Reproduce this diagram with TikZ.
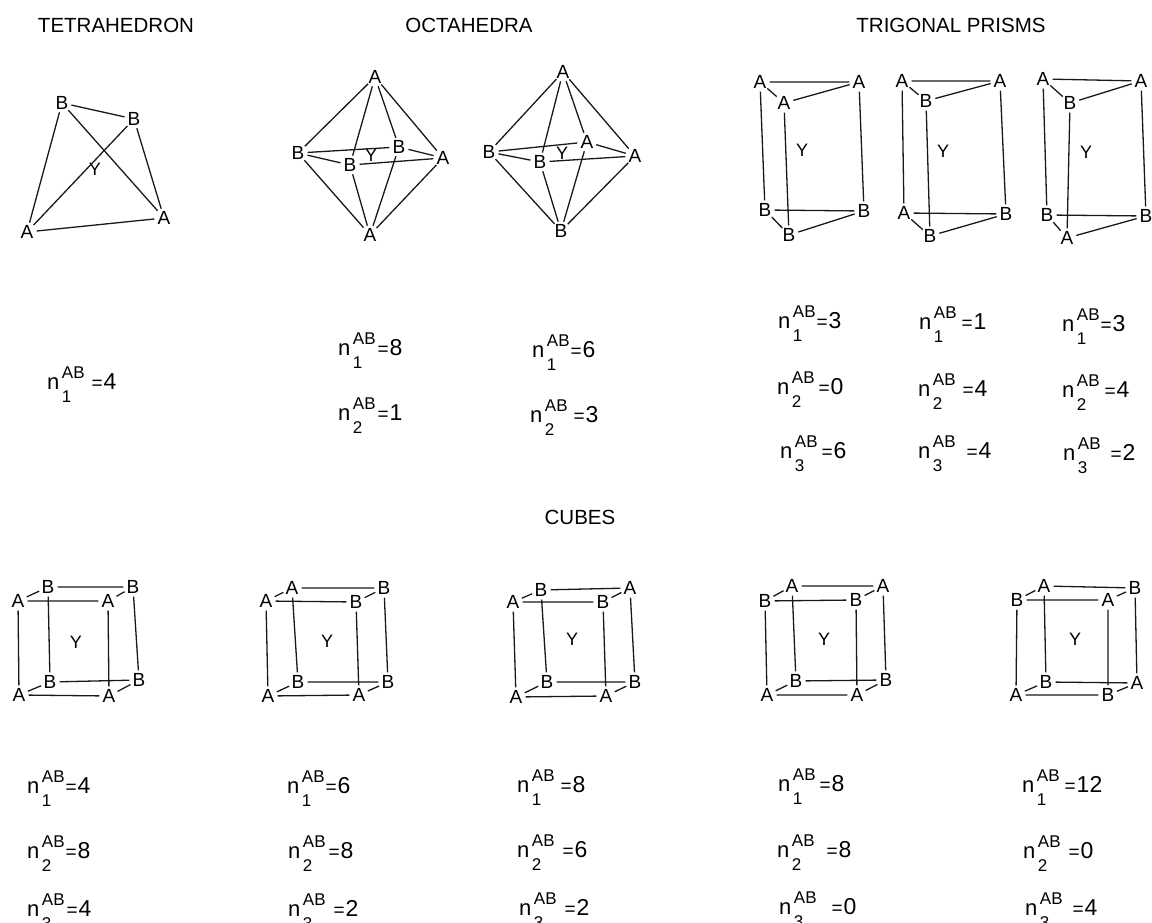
\documentclass[tikz,border=0pt]{standalone}
\usepackage{fontspec}
\setmainfont{Liberation Sans}
\newcommand\supfont{\fontsize{17}{17}\selectfont}
\newcommand\eqfont{\fontsize{19}{19}\selectfont}
\newcommand\valfont{\fontsize{23}{23}\selectfont}
% #1 subscript, #2 gap before the equals sign, #3 value
\newcommand\nab[3]{n\hspace{2.5pt}\rlap{\raisebox{11pt}{\supfont AB}}\rlap{\raisebox{-13pt}{\supfont #1}}\phantom{\supfont AB}\hspace{#2pt}{\eqfont=}\hspace{1pt}{\valfont #3}}
\newcommand\cubeedges[1]{\draw[edge] (#1a)--(#1b) (#1b)--(#1c) (#1c)--(#1d) (#1d)--(#1a) (#1e)--(#1f) (#1f)--(#1g) (#1g)--(#1h) (#1h)--(#1e) (#1a)--(#1e) (#1b)--(#1f) (#1c)--(#1g) (#1d)--(#1h);}
\newcommand\prismedges[1]{\draw[edge] (#1a)--(#1b) (#1a)--(#1c) (#1c)--(#1b) (#1d)--(#1e) (#1d)--(#1f) (#1f)--(#1e) (#1a)--(#1d) (#1b)--(#1e) (#1c)--(#1f);}
\newcommand\octedges[1]{\draw[edge] (#1t)--(#1l) (#1t)--(#1f) (#1t)--(#1k) (#1t)--(#1r) (#1u)--(#1l) (#1u)--(#1f) (#1u)--(#1k) (#1u)--(#1r) (#1l)--(#1k) (#1k)--(#1r) (#1l)--(#1f) (#1f)--(#1r);}
\tikzset{
 vert/.style={circle,inner sep=0pt,minimum size=19pt,font=\fontsize{19}{19}\selectfont},
 cen/.style={inner sep=0pt,font=\fontsize{18}{18}\selectfont},
 edge/.style={line width=1.3pt,black!90},
 ttl/.style={inner sep=0pt,font=\fontsize{20.5}{20.5}\selectfont},
 lab/.style={anchor=base west,inner sep=0pt,font=\fontsize{22}{22}\selectfont}
}
\begin{document}
\begin{tikzpicture}[x=1pt,y=-1pt]
\useasboundingbox (0,0) rectangle (1152,923);
\node[ttl] (t1) at (116,25) {TETRAHEDRON};
\node[ttl] (t2) at (469,25) {OCTAHEDRA};
\node[ttl] (t3) at (951,25) {TRIGONAL PRISMS};
\node[ttl] (t4) at (580,517) {CUBES};
% tetrahedron
\node[vert] (ta) at (62,103) {B};
\node[vert] (tb) at (134,119) {B};
\node[vert] (tc) at (27,232) {A};
\node[vert] (td) at (164,218) {A};
\node[cen] (ty) at (95,169) {Y};
\draw[edge] (ta)--(tb) (ta)--(tc) (ta)--(td) (tb)--(tc) (tb)--(td) (tc)--(td);
% octahedra
\node[vert] (ot) at (375,77) {A};
\node[vert] (ol) at (298,153) {B};
\node[vert] (ok) at (399,147) {B};
\node[vert] (or) at (443,158) {A};
\node[vert] (of) at (350,165) {B};
\node[vert] (ou) at (370,235) {A};
\node[cen] (oy) at (371,155) {Y};
\octedges{o}
\node[vert] (pt) at (563,72) {A};
\node[vert] (pl) at (489,152) {B};
\node[vert] (pk) at (587,142) {A};
\node[vert] (pr) at (635,156) {A};
\node[vert] (pf) at (540,162) {B};
\node[vert] (pu) at (561,231) {B};
\node[cen] (py) at (562,153) {Y};
\octedges{p}
% prisms
\node[vert] (qa) at (760,82) {A};
\node[vert] (qb) at (859,82) {A};
\node[vert] (qc) at (784,103) {A};
\node[vert] (qd) at (765,210) {B};
\node[vert] (qe) at (864,211) {B};
\node[vert] (qf) at (789,235) {B};
\node[cen] (qy) at (802,150) {Y};
\prismedges{q}
\node[vert] (ra) at (902,81) {A};
\node[vert] (rb) at (1000,81) {A};
\node[vert] (rc) at (926,101) {B};
\node[vert] (rd) at (904,213) {A};
\node[vert] (re) at (1006,214) {B};
\node[vert] (rf) at (930,236) {B};
\node[cen] (ry) at (943,151) {Y};
\prismedges{r}
\node[vert] (sa) at (1043,79) {A};
\node[vert] (sb) at (1141,81) {A};
\node[vert] (sc) at (1070,103) {B};
\node[vert] (sd) at (1047,215) {B};
\node[vert] (se) at (1146,216) {B};
\node[vert] (sf) at (1067,238) {A};
\node[cen] (sy) at (1086,152) {Y};
\prismedges{s}
% cubes
\node[vert] (c1a) at (18,601) {A};
\node[vert] (c1b) at (48,587) {B};
\node[vert] (c1c) at (133,587) {B};
\node[vert] (c1d) at (108,601) {A};
\node[vert] (c1e) at (19,695) {A};
\node[vert] (c1f) at (50,682) {B};
\node[vert] (c1g) at (139,680) {B};
\node[vert] (c1h) at (109,696) {A};
\node[cen] (c1y) at (76,642) {Y};
\cubeedges{c1}
\node[vert] (c2a) at (266,601) {A};
\node[vert] (c2b) at (292,588) {A};
\node[vert] (c2c) at (384,588) {B};
\node[vert] (c2d) at (356,602) {B};
\node[vert] (c2e) at (268,696) {A};
\node[vert] (c2f) at (298,682) {B};
\node[vert] (c2g) at (388,682) {B};
\node[vert] (c2h) at (359,695) {A};
\node[cen] (c2y) at (327,641) {Y};
\cubeedges{c2}
\node[vert] (c3a) at (513,602) {A};
\node[vert] (c3b) at (541,590) {B};
\node[vert] (c3c) at (630,588) {A};
\node[vert] (c3d) at (603,602) {B};
\node[vert] (c3e) at (516,697) {A};
\node[vert] (c3f) at (547,682) {B};
\node[vert] (c3g) at (635,682) {B};
\node[vert] (c3h) at (606,696) {A};
\node[cen] (c3y) at (572,639) {Y};
\cubeedges{c3}
\node[vert] (c4a) at (765,601) {B};
\node[vert] (c4b) at (792,586) {A};
\node[vert] (c4c) at (883,586) {A};
\node[vert] (c4d) at (856,600) {B};
\node[vert] (c4e) at (767,695) {A};
\node[vert] (c4f) at (796,681) {B};
\node[vert] (c4g) at (886,680) {B};
\node[vert] (c4h) at (857,695) {A};
\node[cen] (c4y) at (824,639) {Y};
\cubeedges{c4}
\node[vert] (c5a) at (1017,600) {B};
\node[vert] (c5b) at (1044,586) {A};
\node[vert] (c5c) at (1135,588) {B};
\node[vert] (c5d) at (1108,600) {A};
\node[vert] (c5e) at (1016,695) {A};
\node[vert] (c5f) at (1046,682) {B};
\node[vert] (c5g) at (1137,683) {A};
\node[vert] (c5h) at (1108,695) {B};
\node[cen] (c5y) at (1075,639) {Y};
\cubeedges{c5}
% counts
\node[lab] (l1) at (47,389) {\nab{1}{7}{4}};
\node[lab] (l2) at (338,355) {\nab{1}{2}{8}};
\node[lab] (l3) at (338,420) {\nab{2}{2}{1}};
\node[lab] (l4) at (532,357) {\nab{1}{1}{6}};
\node[lab] (l5) at (530,422) {\nab{2}{6}{3}};
\node[lab] (l6) at (778,328) {\nab{1}{1}{3}};
\node[lab] (l7) at (777,394) {\nab{2}{4}{0}};
\node[lab] (l8) at (780,458) {\nab{3}{4}{6}};
\node[lab] (l9) at (919,329) {\nab{1}{5}{1}};
\node[lab] (l10) at (918,396) {\nab{2}{7}{4}};
\node[lab] (l11) at (918,458) {\nab{3}{11}{4}};
\node[lab] (l12) at (1062,331) {\nab{1}{1}{3}};
\node[lab] (l13) at (1062,397) {\nab{2}{5}{4}};
\node[lab] (l14) at (1063,460) {\nab{3}{10}{2}};
\node[lab] (m1) at (27,793) {\nab{1}{1}{4}};
\node[lab] (m2) at (27,858) {\nab{2}{1}{8}};
\node[lab] (m3) at (27,916) {\nab{3}{2}{4}};
\node[lab] (m4) at (287,793) {\nab{1}{1}{6}};
\node[lab] (m5) at (288,858) {\nab{2}{3}{8}};
\node[lab] (m6) at (288,916) {\nab{3}{8}{2}};
\node[lab] (m7) at (517,792) {\nab{1}{6}{8}};
\node[lab] (m8) at (517,857) {\nab{2}{8}{6}};
\node[lab] (m9) at (519,915) {\nab{3}{8}{2}};
\node[lab] (m10) at (778,791) {\nab{1}{4}{8}};
\node[lab] (m11) at (777,857) {\nab{2}{12}{8}};
\node[lab] (m12) at (779,914) {\nab{3}{15}{0}};
\node[lab] (m13) at (1022,792) {\nab{1}{5}{12}};
\node[lab] (m14) at (1023,858) {\nab{2}{8}{0}};
\node[lab] (m15) at (1025,915) {\nab{3}{10}{4}};
\end{tikzpicture}
\end{document}
